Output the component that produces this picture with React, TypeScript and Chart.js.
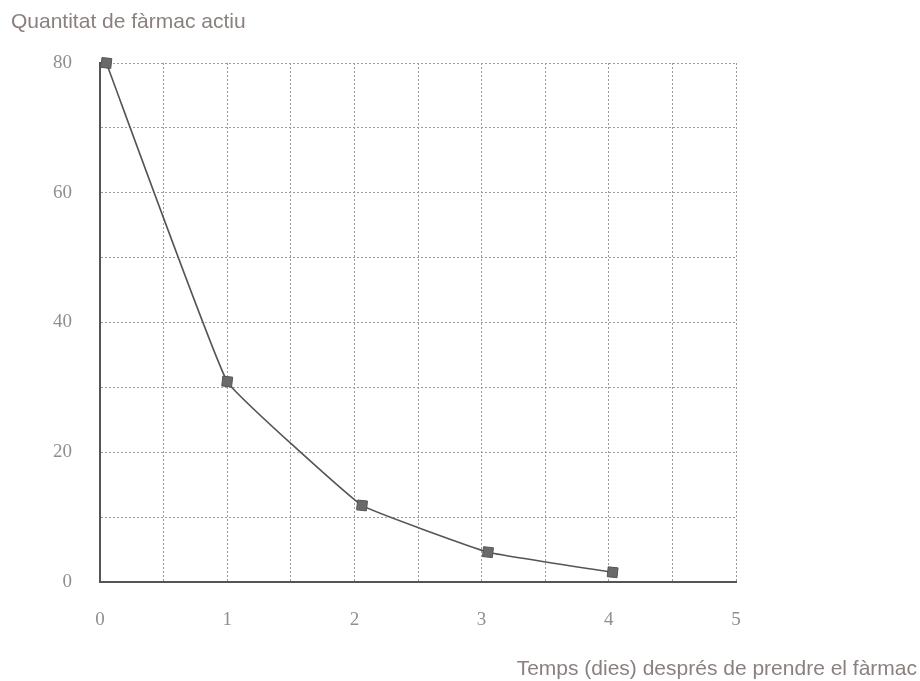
import React, { useEffect, useRef } from "react";
import { Chart, registerables } from "chart.js";

Chart.register(...registerables);

const yAxisTitle = "Quantitat de fàrmac actiu";
const xAxisTitle = "Temps (dies) després de prendre el fàrmac";
const days = [0.05, 1.0, 2.06, 3.05, 4.03];
const amounts = [80, 30.9, 11.8, 4.6, 1.5];
const xTickLabels = [0, 1, 2, 3, 4, 5];
const yTickLabels = [0, 20, 40, 60, 80];

const titleColor = "#8b807d";
const tickColor = "#8f8f8f";

const textPlugin = {
  id: "axisTexts",
  afterDraw(chart: any) {
    const ctx = chart.ctx;
    ctx.save();
    ctx.fillStyle = titleColor;
    ctx.font = "21px 'Liberation Sans', Arial, sans-serif";
    ctx.textBaseline = "alphabetic";
    ctx.textAlign = "left";
    ctx.fillText(yAxisTitle, 11, 28);
    ctx.textAlign = "right";
    ctx.fillText(xAxisTitle, 917, 675);
    ctx.restore();
  },
};

export default function App() {
  const ref = useRef<HTMLCanvasElement | null>(null);
  useEffect(() => {
    if (!ref.current) return;
    const chart = new Chart(ref.current, {
      type: "line",
      data: {
        datasets: [
          {
            data: days.map((d, i) => ({ x: d, y: amounts[i] })),
            borderColor: "#555555",
            borderWidth: 1.6,
            backgroundColor: "#6a6a6a",
            pointStyle: "rect",
            pointRadius: 7,
            pointRotation: 6,
            pointBackgroundColor: "#6a6a6a",
            pointBorderColor: "#555555",
            pointBorderWidth: 1,
            tension: 0.08,
            fill: false,
            clip: false,
          },
        ],
      },
      options: {
        responsive: false,
        animation: false,
        layout: { padding: { left: 0, right: 184, top: 63, bottom: 39 } },
        plugins: {
          legend: { display: false },
          tooltip: { enabled: false },
          title: { display: false },
        },
        scales: {
          x: {
            type: "linear",
            min: 0,
            max: 5,
            afterFit: (s: any) => {
              s.height = 60;
            },
            ticks: {
              stepSize: 0.5,
              padding: 27,
              color: tickColor,
              font: { family: "'Liberation Serif', 'DejaVu Serif', serif", size: 19 },
              maxRotation: 0,
              autoSkip: false,
              callback: (v: any) => (xTickLabels.includes(Number(v)) ? String(v) : ""),
            },
            grid: {
              color: "#9c9c9c",
              lineWidth: 1,
              drawTicks: false,
              tickLength: 0,
            },
            border: { display: true, color: "#555555", width: 2, dash: [2, 2] },
          },
          y: {
            type: "linear",
            min: 0,
            max: 80,
            afterFit: (s: any) => {
              s.width = 100;
            },
            ticks: {
              stepSize: 10,
              padding: 28,
              color: tickColor,
              font: { family: "'Liberation Serif', 'DejaVu Serif', serif", size: 19 },
              autoSkip: false,
              callback: (v: any) => (yTickLabels.includes(Number(v)) ? String(v) : ""),
            },
            grid: {
              color: "#9c9c9c",
              lineWidth: 1,
              drawTicks: false,
              tickLength: 0,
            },
            border: { display: true, color: "#555555", width: 2, dash: [2, 2] },
          },
        },
      },
      plugins: [textPlugin],
    } as any);
    return () => chart.destroy();
  }, []);

  return (
    <div style={{ position: "fixed", left: 0, top: 0, width: 920, height: 681, background: "#fff" }}>
      <canvas ref={ref} width={920} height={681} style={{ width: 920, height: 681 }} />
    </div>
  );
}
